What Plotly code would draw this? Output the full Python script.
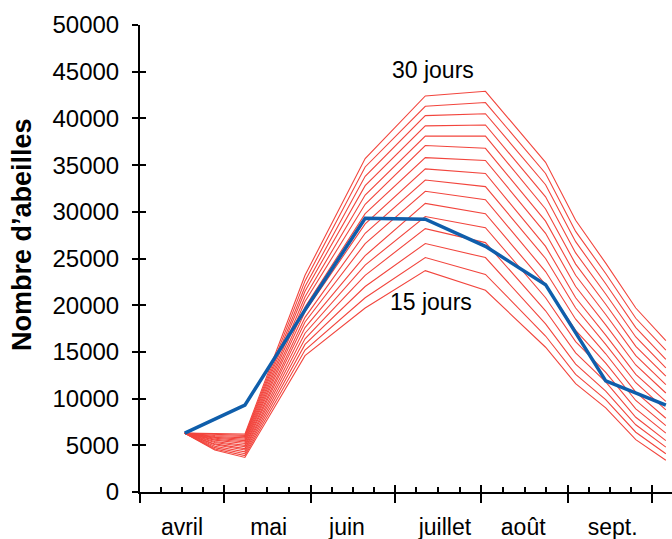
import plotly.graph_objects as go

# x positions (days since 1 April)
jours_bleu = [16, 37.5, 59, 80.5, 102, 123.5, 145, 166.5, 188]
jours_rouge = [16, 26.75, 37.5, 59, 80.5, 102, 123.5, 145, 155.75, 166.5, 177.25, 188]

# observed colony (blue)
observe = [6300, 9300, 19500, 29300, 29200, 26300, 22200, 11900, 9300]

# simulated colonies, by worker lifespan (red)
j15 = [6300, 4500, 3700, 14600, 19700, 23700, 21600, 15500, 11600, 9000, 5600, 3400]
j16 = [6300, 4600, 3900, 15200, 20800, 25100, 23300, 16700, 12600, 9900, 6400, 4100]
j17 = [6300, 4750, 4100, 15800, 22000, 26600, 25100, 18000, 13700, 10800, 7200, 4800]
j18 = [6300, 4900, 4300, 16400, 23200, 28200, 26700, 19400, 14900, 11800, 8000, 5500]
j19 = [6300, 5050, 4500, 17000, 24300, 29500, 28300, 20800, 16100, 12800, 8900, 6300]
j20 = [6300, 5150, 4650, 17600, 25300, 30900, 29800, 22200, 17300, 13800, 9800, 7100]
j21 = [6300, 5300, 4850, 18200, 26600, 32200, 31300, 23600, 18500, 14800, 10700, 7900]
j22 = [6300, 5400, 5000, 18700, 27700, 33400, 32700, 25000, 19700, 15800, 11700, 8800]
j23 = [6300, 5550, 5200, 19300, 28700, 34600, 34100, 26300, 20800, 16800, 12600, 9700]
j24 = [6300, 5650, 5350, 19800, 29800, 35800, 35500, 27700, 22000, 17900, 13600, 10600]
j25 = [6300, 5750, 5500, 20400, 30800, 37100, 36800, 29000, 23200, 19000, 14600, 11500]
j26 = [6300, 5850, 5650, 20900, 31800, 38100, 38100, 30300, 24400, 20100, 15600, 12400]
j27 = [6300, 5950, 5800, 21500, 32800, 39200, 39300, 31600, 25600, 21200, 16600, 13300]
j28 = [6300, 6050, 5950, 22000, 33800, 40300, 40500, 32900, 26800, 22300, 17600, 14200]
j29 = [6300, 6150, 6050, 22600, 34800, 41300, 41700, 34100, 27900, 23400, 18600, 15200]
j30 = [6300, 6250, 6200, 23200, 35700, 42400, 42900, 35300, 29100, 24500, 19700, 16200]
simules = [j15, j16, j17, j18, j19, j20, j21, j22, j23, j24, j25, j26, j27, j28, j29, j30]

mois = ["avril", "mai", "juin", "juillet", "août", "sept."]
pos_mois = [15, 46, 74, 109, 137, 169]
debuts_mois = [0, 30, 61, 91, 122, 153, 183]
y_ticks = [0, 5000, 10000, 15000, 20000, 25000, 30000, 35000, 40000, 45000, 50000]
y_labels = [str(v) for v in y_ticks]

FONT = "Liberation Sans, Arial, sans-serif"
L, R, T, B = 140, 0, 25, 47
W, H = 672, 539

fig = go.Figure()

for serie in simules:
    fig.add_trace(go.Scatter(x=jours_rouge, y=serie, mode="lines",
                             line=dict(color="#f2453d", width=1.1),
                             showlegend=False, hoverinfo="skip"))

fig.add_trace(go.Scatter(x=jours_bleu, y=observe, mode="lines",
                         line=dict(color="#0f5eab", width=3.5),
                         showlegend=False))

# minor tick positions (quarters of each month)
minor_vals = []
for a, b in zip(debuts_mois[:-1], debuts_mois[1:]):
    for q in (0.25, 0.5, 0.75):
        minor_vals.append(a + (b - a) * q)

xr = [0, 190.2]
yr = [0, 50000]

fig.update_layout(
    width=W, height=H,
    margin=dict(l=L, r=R, t=T, b=B, autoexpand=False),
    paper_bgcolor="white", plot_bgcolor="white",
    font=dict(family=FONT, size=22, color="black"),
    xaxis=dict(range=xr, showgrid=False, zeroline=False, automargin=False,
               showline=True, linecolor="black", linewidth=2,
               tickmode="array", tickvals=debuts_mois,
               ticks="outside", ticklen=9, tickwidth=2, tickcolor="black",
               showticklabels=False,
               minor=dict(tickmode="array", tickvals=minor_vals,
                          ticks="inside", ticklen=5, tickwidth=2,
                          tickcolor="black", showgrid=False)),
    xaxis2=dict(range=xr, overlaying="x", anchor="y", side="bottom",
                showgrid=False, zeroline=False, showline=False, automargin=False,
                tickmode="array", tickvals=debuts_mois,
                ticks="inside", ticklen=7, tickwidth=2, tickcolor="black",
                showticklabels=False),
    xaxis3=dict(range=xr, overlaying="x", anchor="y", side="bottom",
                showgrid=False, zeroline=False, showline=False, automargin=False,
                tickmode="array", tickvals=pos_mois,
                ticktext=mois, ticks="", ticklabelstandoff=19,
                tickfont=dict(family=FONT, size=23, color="black")),
    yaxis=dict(range=yr, showgrid=False, zeroline=False, automargin=False,
               showline=True, linecolor="black", linewidth=2,
               tickmode="array", tickvals=y_ticks, ticktext=y_labels,
               ticks="outside", ticklen=6, tickwidth=2, tickcolor="black",
               ticklabelstandoff=8,
               tickfont=dict(family=FONT, size=24, color="black")),
    yaxis2=dict(range=yr, overlaying="y", anchor="x", side="left",
                showgrid=False, zeroline=False, showline=False, automargin=False,
                tickmode="array", tickvals=y_ticks,
                ticks="inside", ticklen=6, tickwidth=2, tickcolor="black",
                showticklabels=False),
)

# invisible traces so the overlay axes render
fig.add_trace(go.Scatter(x=[None], y=[None], xaxis="x2", yaxis="y2", showlegend=False))
fig.add_trace(go.Scatter(x=[None], y=[None], xaxis="x3", yaxis="y", showlegend=False))

pw, ph = W - L - R, H - T - B


def px_to_paper(px, py):
    return (px - L) / pw, (H - B - py) / ph


tx, ty = px_to_paper(22, 235)
fig.add_annotation(text="<b>Nombre d’abeilles</b>", textangle=-90,
                   x=tx, y=ty, xref="paper", yref="paper",
                   xanchor="center", yanchor="middle", showarrow=False,
                   font=dict(family=FONT, size=27, color="black"))
for txt, (px, py) in [("30 jours", (433, 70)), ("15 jours", (431, 302))]:
    ax, ay = px_to_paper(px, py)
    fig.add_annotation(text=txt, x=ax, y=ay, xref="paper", yref="paper",
                       xanchor="center", yanchor="middle", showarrow=False,
                       font=dict(family=FONT, size=23, color="black"))

fig.write_html("out.html", config={"displayModeBar": False},
               post_script="document.body.style.margin='0';document.body.style.overflow='hidden';")
